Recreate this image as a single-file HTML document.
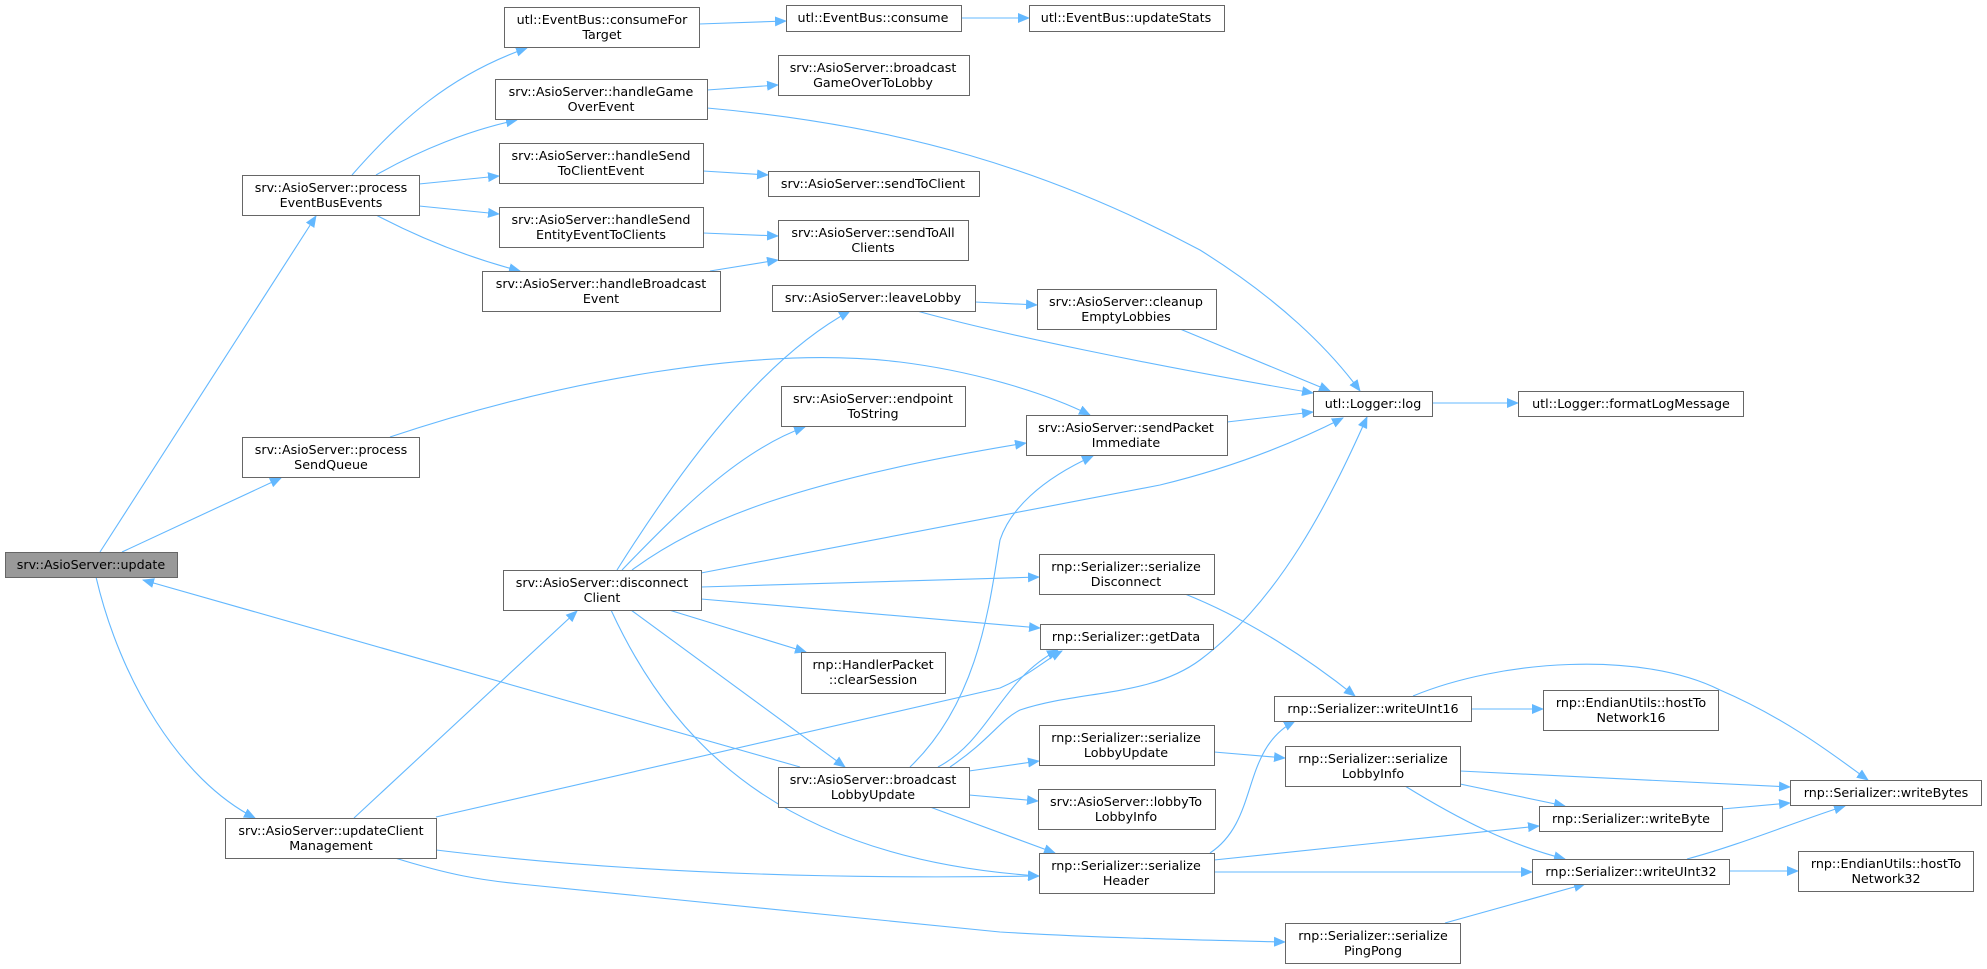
<!DOCTYPE html>
<html><head><meta charset="utf-8"><style>
html,body{margin:0;padding:0;background:#fff;}
svg{display:block}
text{font-family:"DejaVu Sans","Liberation Sans",sans-serif;font-size:12.7px;fill:#000;text-anchor:middle}
.n{fill:#fff;stroke:#666;stroke-width:1}
.e{fill:none;stroke:#63b8ff;stroke-width:1.1;marker-end:url(#ah)}
</style></head><body>
<svg width="1987" height="969" viewBox="0 0 1987 969" xmlns="http://www.w3.org/2000/svg">
<defs><marker id="ah" markerWidth="12" markerHeight="10" refX="11" refY="5" orient="auto" markerUnits="userSpaceOnUse"><path d="M0,0 L12,5 L0,10 Z" fill="#63b8ff"/></marker></defs>

<g>
<path class="e" d="M100,552 L316,216"/>
<path class="e" d="M122,552 L281,478"/>
<path class="e" d="M96,577 C120,680 180,780 255,818"/>
<path class="e" d="M800,767 L143,580"/>
<path class="e" d="M352,175 C400,120 450,75 527,48"/>
<path class="e" d="M376,175 C420,150 470,130 517,120"/>
<path class="e" d="M419,184 L499,176"/>
<path class="e" d="M419,206 L499,214"/>
<path class="e" d="M376,215 C420,238 470,258 520,271"/>
<path class="e" d="M390,437 C560,380 760,345 900,362 C980,372 1050,395 1090,415"/>
<path class="e" d="M354,818 L577,611"/>
<path class="e" d="M436,817 L1000,688 C1030,675 1045,660 1062,651"/>
<path class="e" d="M436,850 C600,870 800,880 1039,876"/>
<path class="e" d="M395,858 C450,875 480,880 520,884 L1000,932 C1100,938 1200,940 1285,942"/>
<path class="e" d="M699,24 L786,21"/>
<path class="e" d="M961,18 L1029,18"/>
<path class="e" d="M707,90 L778,85"/>
<path class="e" d="M707,108 C900,125 1050,170 1200,250 C1280,300 1330,350 1360,391"/>
<path class="e" d="M703,171 L768,175"/>
<path class="e" d="M703,233 L778,236"/>
<path class="e" d="M710,271 L778,260"/>
<path class="e" d="M617,570 C680,470 760,360 850,311"/>
<path class="e" d="M622,570 C680,510 740,450 805,427"/>
<path class="e" d="M632,570 C700,520 800,480 1026,443"/>
<path class="e" d="M701,573 L1160,485 C1230,468 1290,445 1343,418"/>
<path class="e" d="M975,302 L1037,305"/>
<path class="e" d="M917,311 C1000,334 1150,365 1313,393"/>
<path class="e" d="M1180,329 L1330,391"/>
<path class="e" d="M1227,422 L1313,412"/>
<path class="e" d="M701,587 L1039,577"/>
<path class="e" d="M701,599 L1040,628"/>
<path class="e" d="M669,610 L806,652"/>
<path class="e" d="M631,610 L845,767"/>
<path class="e" d="M611,610 C680,760 800,860 1039,876"/>
<path class="e" d="M910,767 C980,700 990,600 1000,540 C1010,510 1040,480 1093,456"/>
<path class="e" d="M938,767 C990,740 1000,680 1058,650"/>
<path class="e" d="M950,767 C990,740 1000,720 1020,710 C1080,690 1150,697 1200,660 C1280,600 1330,500 1367,417"/>
<path class="e" d="M969,771 L1039,761"/>
<path class="e" d="M969,795 L1038,801"/>
<path class="e" d="M930,807 L1055,853"/>
<path class="e" d="M1185,594 C1250,620 1310,660 1355,696"/>
<path class="e" d="M1214,752 L1285,758"/>
<path class="e" d="M1210,853 C1260,820 1240,750 1295,721"/>
<path class="e" d="M1214,860 L1539,826"/>
<path class="e" d="M1214,872 L1532,872"/>
<path class="e" d="M1471,709 L1543,709"/>
<path class="e" d="M1413,696 C1500,660 1640,650 1720,690 C1790,720 1840,760 1868,780"/>
<path class="e" d="M1460,771 L1790,787"/>
<path class="e" d="M1460,784 L1565,806"/>
<path class="e" d="M1405,786 C1460,820 1510,845 1565,859"/>
<path class="e" d="M1722,809 L1790,803"/>
<path class="e" d="M1687,859 C1740,845 1800,820 1845,806"/>
<path class="e" d="M1729,871 L1798,871"/>
<path class="e" d="M1445,923 L1585,884"/>
<path class="e" d="M1432,403 L1518,403"/>
</g>

<g>
<rect x="5.5" y="552.5" width="172" height="25" fill="#999" stroke="#666"/>
<text x="91" y="569">srv::AsioServer::update</text>

<rect class="n" x="242.5" y="175.5" width="177" height="40"/><text x="331" y="192">srv::AsioServer::process</text><text x="331" y="207">EventBusEvents</text>
<rect class="n" x="242.5" y="437.5" width="177" height="40"/><text x="331" y="454">srv::AsioServer::process</text><text x="331" y="469">SendQueue</text>
<rect class="n" x="225.5" y="818.5" width="211" height="40"/><text x="331" y="835">srv::AsioServer::updateClient</text><text x="331" y="850">Management</text>

<rect class="n" x="504.5" y="7.5" width="195" height="40"/><text x="602" y="24">utl::EventBus::consumeFor</text><text x="602" y="39">Target</text>
<rect class="n" x="495.5" y="79.5" width="212" height="40"/><text x="601" y="96">srv::AsioServer::handleGame</text><text x="601" y="111">OverEvent</text>
<rect class="n" x="499.5" y="143.5" width="204" height="40"/><text x="601" y="160">srv::AsioServer::handleSend</text><text x="601" y="175">ToClientEvent</text>
<rect class="n" x="499.5" y="207.5" width="204" height="40"/><text x="601" y="224">srv::AsioServer::handleSend</text><text x="601" y="239">EntityEventToClients</text>
<rect class="n" x="482.5" y="271.5" width="238" height="40"/><text x="601" y="288">srv::AsioServer::handleBroadcast</text><text x="601" y="303">Event</text>
<rect class="n" x="503.5" y="570.5" width="198" height="40"/><text x="602" y="587">srv::AsioServer::disconnect</text><text x="602" y="602">Client</text>

<rect class="n" x="786.5" y="5.5" width="175" height="26"/><text x="873" y="22">utl::EventBus::consume</text>
<rect class="n" x="778.5" y="55.5" width="191" height="40"/><text x="873" y="72">srv::AsioServer::broadcast</text><text x="873" y="87">GameOverToLobby</text>
<rect class="n" x="768.5" y="171.5" width="211" height="25"/><text x="873" y="188">srv::AsioServer::sendToClient</text>
<rect class="n" x="778.5" y="220.5" width="190" height="40"/><text x="873" y="237">srv::AsioServer::sendToAll</text><text x="873" y="252">Clients</text>
<rect class="n" x="772.5" y="285.5" width="203" height="26"/><text x="873" y="302">srv::AsioServer::leaveLobby</text>
<rect class="n" x="781.5" y="386.5" width="184" height="40"/><text x="873" y="403">srv::AsioServer::endpoint</text><text x="873" y="418">ToString</text>
<rect class="n" x="801.5" y="652.5" width="144" height="41"/><text x="873" y="669">rnp::HandlerPacket</text><text x="873" y="684">::clearSession</text>
<rect class="n" x="778.5" y="767.5" width="191" height="40"/><text x="873" y="784">srv::AsioServer::broadcast</text><text x="873" y="799">LobbyUpdate</text>

<rect class="n" x="1029.5" y="5.5" width="195" height="26"/><text x="1126" y="22">utl::EventBus::updateStats</text>
<rect class="n" x="1037.5" y="289.5" width="179" height="40"/><text x="1126" y="306">srv::AsioServer::cleanup</text><text x="1126" y="321">EmptyLobbies</text>
<rect class="n" x="1026.5" y="415.5" width="201" height="40"/><text x="1126" y="432">srv::AsioServer::sendPacket</text><text x="1126" y="447">Immediate</text>
<rect class="n" x="1039.5" y="554.5" width="175" height="40"/><text x="1126" y="571">rnp::Serializer::serialize</text><text x="1126" y="586">Disconnect</text>
<rect class="n" x="1040.5" y="624.5" width="173" height="25"/><text x="1126" y="641">rnp::Serializer::getData</text>
<rect class="n" x="1039.5" y="725.5" width="175" height="40"/><text x="1126" y="742">rnp::Serializer::serialize</text><text x="1126" y="757">LobbyUpdate</text>
<rect class="n" x="1038.5" y="789.5" width="177" height="40"/><text x="1126" y="806">srv::AsioServer::lobbyTo</text><text x="1126" y="821">LobbyInfo</text>
<rect class="n" x="1039.5" y="853.5" width="175" height="40"/><text x="1126" y="870">rnp::Serializer::serialize</text><text x="1126" y="885">Header</text>

<rect class="n" x="1313.5" y="391.5" width="119" height="25"/><text x="1373" y="408">utl::Logger::log</text>
<rect class="n" x="1518.5" y="391.5" width="225" height="25"/><text x="1631" y="408">utl::Logger::formatLogMessage</text>
<rect class="n" x="1274.5" y="696.5" width="197" height="25"/><text x="1373" y="713">rnp::Serializer::writeUInt16</text>
<rect class="n" x="1285.5" y="746.5" width="175" height="40"/><text x="1373" y="763">rnp::Serializer::serialize</text><text x="1373" y="778">LobbyInfo</text>
<rect class="n" x="1285.5" y="923.5" width="175" height="40"/><text x="1373" y="940">rnp::Serializer::serialize</text><text x="1373" y="955">PingPong</text>

<rect class="n" x="1543.5" y="690.5" width="175" height="40"/><text x="1631" y="707">rnp::EndianUtils::hostTo</text><text x="1631" y="722">Network16</text>
<rect class="n" x="1539.5" y="806.5" width="183" height="25"/><text x="1631" y="823">rnp::Serializer::writeByte</text>
<rect class="n" x="1532.5" y="859.5" width="197" height="25"/><text x="1631" y="876">rnp::Serializer::writeUInt32</text>

<rect class="n" x="1790.5" y="780.5" width="191" height="25"/><text x="1886" y="797">rnp::Serializer::writeBytes</text>
<rect class="n" x="1798.5" y="851.5" width="175" height="40"/><text x="1886" y="868">rnp::EndianUtils::hostTo</text><text x="1886" y="883">Network32</text>
</g>
</svg>
</body></html>
